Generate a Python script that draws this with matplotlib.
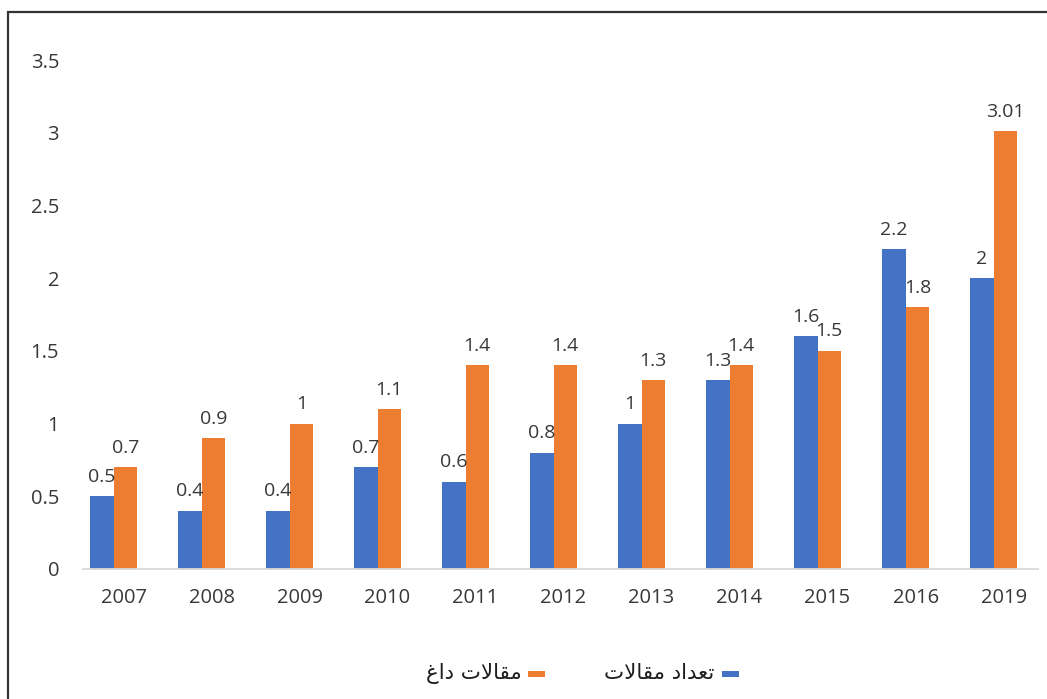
import matplotlib
matplotlib.use("Agg")
import matplotlib.pyplot as plt
import numpy as np
from matplotlib.patches import Rectangle
from matplotlib.transforms import ScaledTranslation

# Data
years = ["2007", "2008", "2009", "2010", "2011", "2012", "2013", "2014", "2015", "2016", "2019"]
article_count = [0.5, 0.4, 0.4, 0.7, 0.6, 0.8, 1, 1.3, 1.6, 2.2, 2]
hot_articles = [0.7, 0.9, 1, 1.1, 1.4, 1.4, 1.3, 1.4, 1.5, 1.8, 3.01]
count_labels = ["0.5", "0.4", "0.4", "0.7", "0.6", "0.8", "1", "1.3", "1.6", "2.2", "2"]
hot_labels = ["0.7", "0.9", "1", "1.1", "1.4", "1.4", "1.3", "1.4", "1.5", "1.8", "3.01"]
y_ticks = [0, 0.5, 1, 1.5, 2, 2.5, 3, 3.5]
y_tick_labels = ["0", "0.5", "1", "1.5", "2", "2.5", "3", "3.5"]

# Legend names, written in presentation forms and visual (right-to-left) order
name_count = "\uFE95\uFEFB\uFE8E\uFED8\uFEE3 \uFEA9\uFE8D\uFEAA\uFECC\uFE97"   # تعداد مقالات
name_hot = "\uFECD\uFE8D\uFEA9 \uFE95\uFEFB\uFE8E\uFED8\uFEE3"                # مقالات داغ

BLUE = "#4472C4"
ORANGE = "#ED7D31"
TEXT = "#383838"
FONT = ["Open Sans", "DejaVu Sans"]

fig = plt.figure(figsize=(10.47, 6.99), dpi=100)
fig.patch.set_facecolor("white")
ax = fig.add_axes([0.079, 0.186, 0.912, 0.728])

x = np.arange(len(years))
w = 0.267
b1 = ax.bar(x - w / 2, article_count, width=w, color=BLUE, zorder=2)
b2 = ax.bar(x + w / 2, hot_articles, width=w, color=ORANGE, zorder=2)

for bars, labels in ((b1, count_labels), (b2, hot_labels)):
    for rect, lab in zip(bars, labels):
        ax.annotate(lab, (rect.get_x() + rect.get_width() / 2, rect.get_height()),
                    xytext=(0, 7.5), textcoords="offset points", ha="center", va="bottom",
                    fontsize=14, color=TEXT, family=FONT, zorder=3, annotation_clip=False)

ax.set_xlim(-0.35, 10.5)
ax.set_ylim(0, 3.5)
ax.set_xticks(x)
ax.set_xticklabels(years, fontsize=14.5, color=TEXT, family=FONT)
ax.set_yticks(y_ticks)
ax.set_yticklabels(y_tick_labels, fontsize=14.5, color=TEXT, family=FONT)
ax.tick_params(axis="both", length=0)
ax.tick_params(axis="x", pad=14)
ax.tick_params(axis="y", pad=17)

shift = ScaledTranslation(10 / 100, 0, fig.dpi_scale_trans)
for lbl in ax.get_xticklabels():
    lbl.set_transform(lbl.get_transform() + shift)

for s in ["top", "right", "left"]:
    ax.spines[s].set_visible(False)
ax.spines["bottom"].set_color("#D9D9D9")
ax.spines["bottom"].set_linewidth(1.3)

# Legend drawn right-to-left: marker on the right of each name
W, H = 1047, 699
def fx(px):
    return px / W
def fy(py):
    return 1 - py / H

fig.patches.append(Rectangle((fx(722), fy(677)), 17 / W, 6 / H, transform=fig.transFigure,
                             facecolor=BLUE, edgecolor="none"))
fig.text(fx(714), fy(673), name_count, ha="right", va="center", fontsize=15.4,
         color="#1e1e1e", family=["DejaVu Sans"])
fig.patches.append(Rectangle((fx(528), fy(677)), 17 / W, 6 / H, transform=fig.transFigure,
                             facecolor=ORANGE, edgecolor="none"))
fig.text(fx(522), fy(673), name_hot, ha="right", va="center", fontsize=15.4,
         color="#1e1e1e", family=["DejaVu Sans"])

# Outer frame
fig.patches.append(Rectangle((fx(8), -0.1), 1.2, fy(12) + 0.1, transform=fig.transFigure,
                             facecolor="none", edgecolor="#333333", linewidth=1.6))

fig.savefig("out.png", dpi=100)
